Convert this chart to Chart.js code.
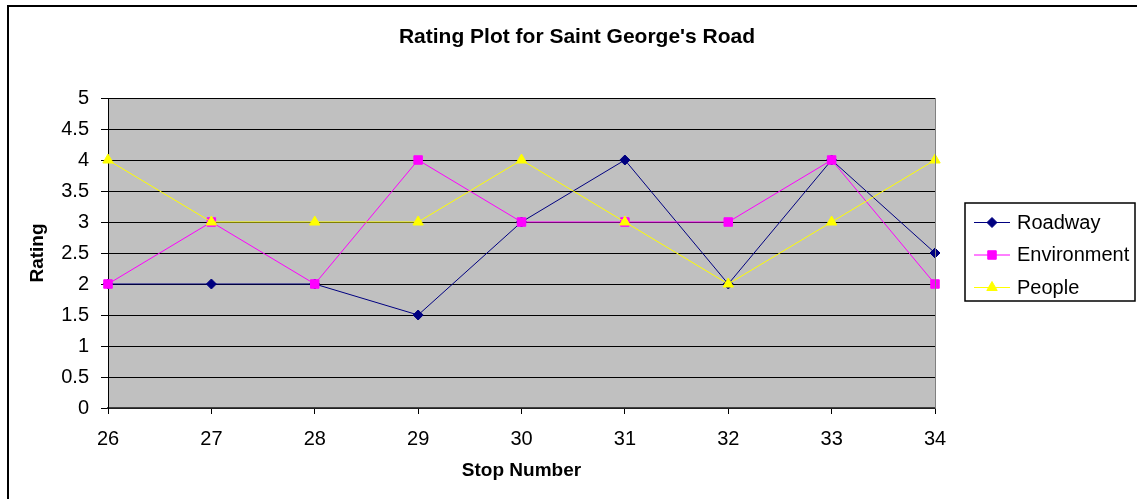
<!DOCTYPE html>
<html>
<head>
<meta charset="utf-8">
<script src="https://cdn.jsdelivr.net/npm/chart.js@4/dist/chart.umd.min.js"></script>
<style>
  html, body { margin: 0; padding: 0; background: #fff; }
  #wrap { width: 1137px; height: 499px; }
</style>
</head>
<body>
<div id="wrap"><canvas id="ratingChart" width="1137" height="499"></canvas></div>
<script>
// data
const stops = ['26', '27', '28', '29', '30', '31', '32', '33', '34'];
const roadway = [2, 2, 2, 1.5, 3, 4, 2, 4, 2.5];
const environment = [2, 3, 2, 4, 3, 3, 3, 4, 2];
const people = [4, 3, 3, 3, 4, 3, 2, 3, 4];

const seriesNames = ['Roadway', 'Environment', 'People'];
const seriesColors = ['#000080', '#FF00FF', '#FFFF00'];
const seriesMarkers = ['rectRot', 'rect', 'triangle'];
const seriesRadius = [5, 6, 6];

const chartTitle = "Rating Plot for Saint George's Road";
const fontFamily = '"Liberation Sans", Arial, sans-serif';

// background of the plot, outer frame, title and legend box
const excelLook = {
    id: 'excelLook',
    beforeDraw(chart) {
        const { ctx, chartArea } = chart;
        ctx.save();
        ctx.fillStyle = '#fff';
        ctx.fillRect(0, 0, chart.width, chart.height);
        ctx.fillStyle = '#C0C0C0';
        ctx.fillRect(chartArea.left, chartArea.top, chartArea.right - chartArea.left, chartArea.bottom - chartArea.top);
        ctx.restore();
    },
    afterDraw(chart) {
        const { ctx, chartArea } = chart;
        ctx.save();
        // right edge of plot area
        ctx.strokeStyle = '#808080';
        ctx.lineWidth = 1;
        ctx.beginPath();
        ctx.moveTo(chartArea.right + 0.5, chartArea.top);
        ctx.lineTo(chartArea.right + 0.5, chartArea.bottom);
        ctx.stroke();

        // outer frame
        ctx.strokeStyle = '#000';
        ctx.lineWidth = 2;
        ctx.strokeRect(8, 6, 1300, 700);

        // title
        ctx.fillStyle = '#000';
        ctx.font = 'bold 21px ' + fontFamily;
        ctx.textAlign = 'center';
        ctx.textBaseline = 'middle';
        ctx.fillText(chartTitle, 577, 37);

        // legend
        const lx = 965, ly = 203, lw = 170, lh = 98;
        ctx.fillStyle = '#fff';
        ctx.fillRect(lx, ly, lw, lh);
        ctx.strokeStyle = '#000';
        ctx.lineWidth = 1.5;
        ctx.strokeRect(lx, ly, lw, lh);
        chart.data.datasets.forEach((ds, i) => {
            const y = 222 + i * 32.5;
            ctx.strokeStyle = ds.borderColor;
            ctx.lineWidth = 1;
            ctx.beginPath();
            ctx.moveTo(974, y + 0.5);
            ctx.lineTo(1010, y + 0.5);
            ctx.stroke();
            ctx.fillStyle = ds.borderColor;
            Chart.helpers.drawPoint(ctx, {
                pointStyle: ds.pointStyle,
                radius: ds.pointRadius,
                borderWidth: 1
            }, 992, y + 0.5);
            ctx.fillStyle = '#000';
            ctx.font = '20px ' + fontFamily;
            ctx.textAlign = 'left';
            ctx.textBaseline = 'middle';
            ctx.fillText(ds.label, 1017, y + 1);
        });
        ctx.restore();
    }
};

// later series are painted on top, like the original
const datasets = [roadway, environment, people].map((values, i) => ({
    label: seriesNames[i],
    data: values,
    order: 3 - i,
    borderColor: seriesColors[i],
    backgroundColor: seriesColors[i],
    pointBackgroundColor: seriesColors[i],
    pointBorderColor: seriesColors[i],
    pointStyle: seriesMarkers[i],
    pointRadius: seriesRadius[i],
    borderWidth: 1,
    tension: 0,
    clip: false
}));

new Chart(document.getElementById('ratingChart').getContext('2d'), {
    type: 'line',
    data: { labels: stops, datasets },
    options: {
        responsive: false,
        animation: false,
        layout: { padding: { left: 8, top: 98, right: 202, bottom: 0 } },
        plugins: {
            legend: { display: false },
            title: { display: false },
            tooltip: { enabled: false }
        },
        scales: {
            x: {
                offset: false,
                afterFit: (scale) => { scale.height = 91; },
                grid: {
                    drawOnChartArea: false,
                    drawTicks: true,
                    tickLength: 6,
                    color: '#000'
                },
                border: { display: true, color: '#404040', width: 1.5 },
                ticks: {
                    color: '#000',
                    padding: 13,
                    maxRotation: 0,
                    font: { family: fontFamily, size: 20 }
                },
                title: {
                    display: true,
                    text: 'Stop Number',
                    color: '#000',
                    font: { family: fontFamily, size: 19, weight: 'bold' },
                    padding: { top: 0, bottom: 17 }
                }
            },
            y: {
                min: 0,
                max: 5,
                afterFit: (scale) => { scale.width = 100; },
                grid: {
                    color: '#000',
                    lineWidth: 1,
                    drawTicks: true,
                    tickLength: 7
                },
                border: { display: true, color: '#000', width: 1 },
                ticks: {
                    stepSize: 0.5,
                    color: '#000',
                    padding: 12,
                    font: { family: fontFamily, size: 20 },
                    callback: (v) => String(v)
                },
                title: {
                    display: true,
                    text: 'Rating',
                    color: '#000',
                    font: { family: fontFamily, size: 19, weight: 'bold' },
                    padding: { top: 18, bottom: 0 }
                }
            }
        }
    },
    plugins: [excelLook]
});
</script>
</body>
</html>
